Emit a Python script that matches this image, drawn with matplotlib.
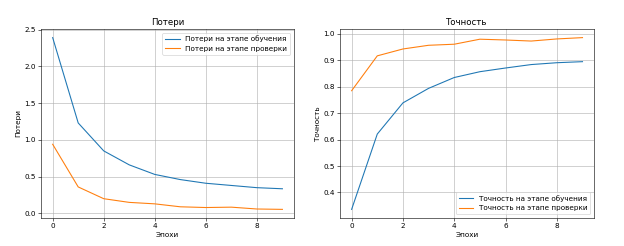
import matplotlib
matplotlib.use("Agg")
import matplotlib.pyplot as plt

epochs = list(range(10))
train_loss = [2.39, 1.23, 0.85, 0.66, 0.53, 0.46, 0.41, 0.38, 0.35, 0.335]
val_loss = [0.94, 0.36, 0.20, 0.15, 0.13, 0.09, 0.08, 0.085, 0.06, 0.055]
train_acc = [0.336, 0.621, 0.739, 0.794, 0.835, 0.857, 0.871, 0.884, 0.891, 0.895]
val_acc = [0.785, 0.917, 0.943, 0.957, 0.961, 0.980, 0.977, 0.973, 0.981, 0.986]

fig = plt.figure(figsize=(12, 246/52), dpi=52)
ax1 = fig.add_axes([0.066, 0.114, 0.405, 0.768])
ax2 = fig.add_axes([0.545, 0.114, 0.407, 0.768])

ax1.plot(epochs, train_loss, label="Потери на этапе обучения")
ax1.plot(epochs, val_loss, label="Потери на этапе проверки")
ax1.set_title("Потери")
ax1.set_xlabel("Эпохи")
ax1.set_ylabel("Потери")
ax1.legend(loc="upper right")
ax1.grid(True)

ax2.plot(epochs, train_acc, label="Точность на этапе обучения")
ax2.plot(epochs, val_acc, label="Точность на этапе проверки")
ax2.set_title("Точность")
ax2.set_xlabel("Эпохи")
ax2.set_ylabel("Точность")
ax2.legend(loc="lower right")
ax2.grid(True)

fig.savefig("out.png", dpi=52)
